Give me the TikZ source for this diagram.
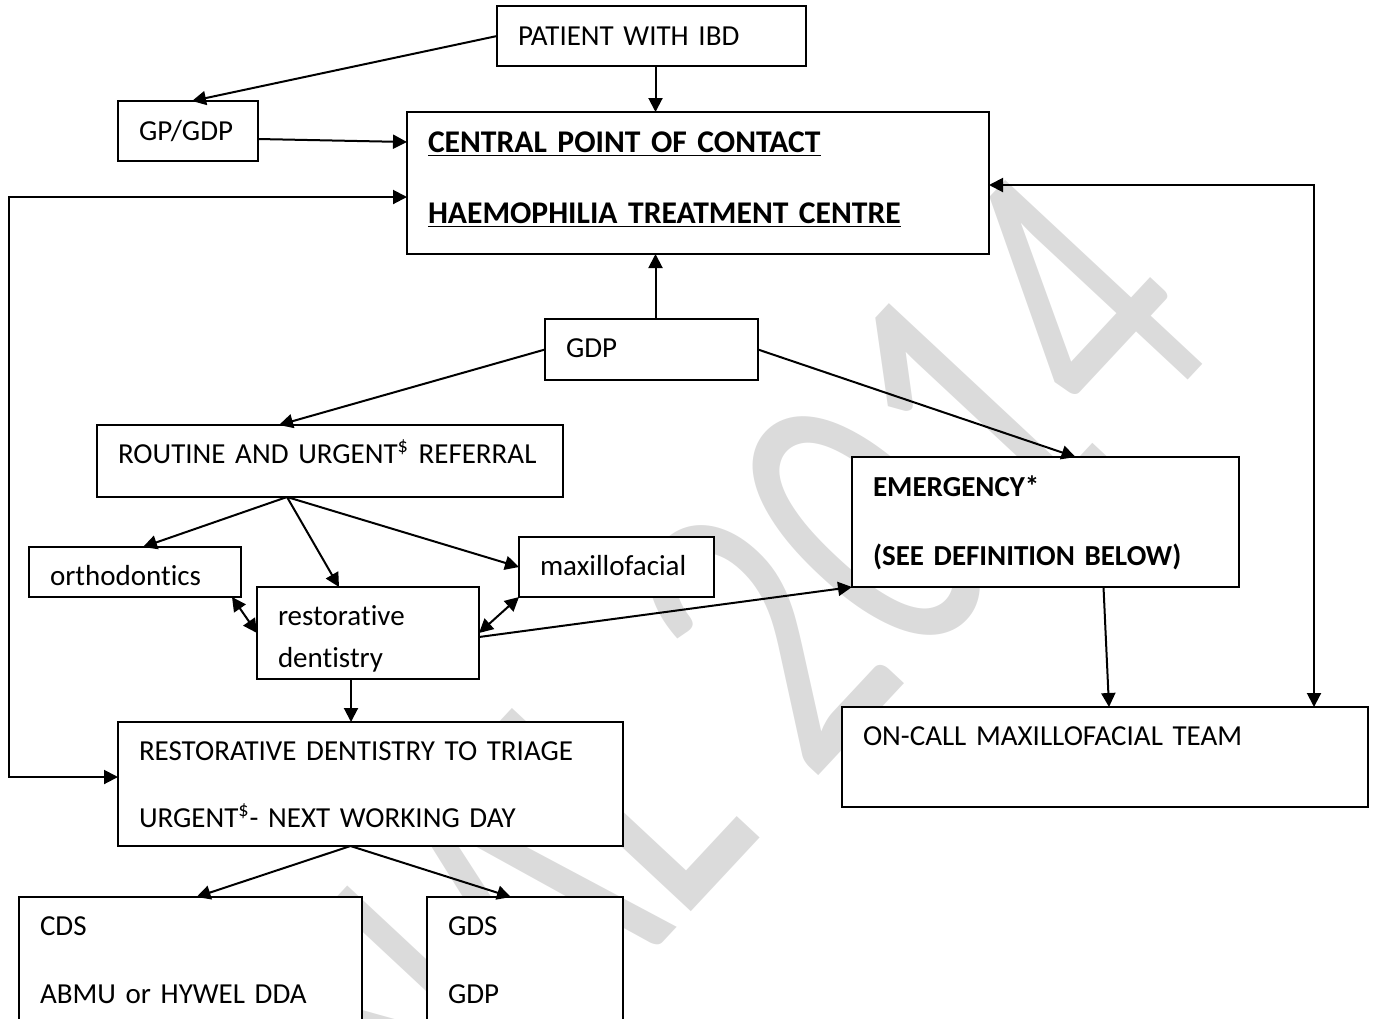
\documentclass[tikz,border=0pt]{standalone}
\usepackage{fontspec}
\setmainfont{Carlito}[Ligatures=CommonOff]
\usetikzlibrary{arrows.meta, calc, positioning}
\tikzstyle{block} = [rectangle, draw=black, fill=white, line width=0.8pt, inner xsep=10.5pt, inner ysep=0pt, outer sep=0pt, anchor=north west, align=left, font=\fontsize{14.5}{17}\selectfont]
\tikzstyle{arrow} = [line width=1pt, -{Triangle[length=7pt,width=7pt]}]
\tikzstyle{twoway} = [line width=1pt, {Triangle[length=7pt,width=7pt]}-{Triangle[length=7pt,width=7pt]}]
\tikzstyle{mark2014} = [text=black!14, font=\fontsize{150}{150}\selectfont, inner sep=0pt, rotate=47, yscale=1.4, anchor=base east]
\begin{document}
\begin{tikzpicture}[x=0.5pt, y=-0.5pt]
		\useasboundingbox (0,0) rectangle (1375,1018);
		\clip (0,0) rectangle (1375,1018);
		% watermark
		\node (Final) [mark2014] at (1225,340) {FINAL 2014};
		% boxes
		\node (Patient) [block, text width=133.5pt, text height=19.5pt, text depth=10.5pt] at (497,6) {PATIENT WITH IBD};
		\node (GP) [block, text width=49pt, text height=19.5pt, text depth=10.5pt] at (118,101) {GP/GDP};
		\node (Central) [block, text width=270pt, text height=20pt, text depth=51pt, font=\fontsize{15.8}{17}\selectfont\bfseries] at (407,112) {\underline{CENTRAL POINT OF CONTACT}\\[18.5pt]\underline{HAEMOPHILIA TREATMENT CENTRE}};
		\node (GDP) [block, text width=85.5pt, text height=19pt, text depth=11.5pt] at (545,319) {GDP};
		\node (Routine) [block, text width=212pt, text height=19pt, text depth=17pt] at (97,425) {ROUTINE AND URGENT\textsuperscript{\$} REFERRAL};
		\node (Ortho) [block, text width=85pt, text height=19pt, text depth=6pt] at (29,547) {orthodontics};
		\node (Maxfac) [block, text width=76.5pt, text height=19pt, text depth=11pt] at (519,537) {maxillofacial};
		\node (Restor) [block, text width=90pt, text height=19pt, text depth=27pt] at (257,587) {restorative\\[4pt]dentistry};
		\node (Emerg) [block, text width=172.5pt, text height=19.5pt, text depth=45.5pt, font=\fontsize{14.5}{17}\selectfont\bfseries] at (852,457) {EMERGENCY*\\[17.5pt](SEE DEFINITION BELOW)};
		\node (Oncall) [block, text width=242pt, text height=19pt, text depth=31pt] at (842,707) {ON-CALL MAXILLOFACIAL TEAM};
		\node (Triage) [block, text width=231.5pt, text height=19pt, text depth=43pt] at (118,722) {RESTORATIVE DENTISTRY TO TRIAGE\\[16.5pt]URGENT\textsuperscript{\$}- NEXT WORKING DAY};
		\node (CDS) [block, text width=150.5pt, text height=19pt, text depth=52.5pt] at (19,897) {CDS\\[17pt]ABMU or HYWEL DDA};
		\node (GDS) [block, text width=77pt, text height=19pt, text depth=52.5pt] at (427,897) {GDS\\[17pt]GDP};
		% connectors
		\draw [arrow] (Patient.west) -- ([xshift=2pt]GP.north);
		\draw [arrow] ([xshift=2pt]Patient.south) -- ([xshift=2pt]Patient.south |- Central.north);
		\draw [arrow] ([yshift=-4pt]GP.east) -- (Central.west |- 0,142);
		\draw [twoway] (Central.west |- 0,197) -- (9,197) -- (9,777) -- (Triage.west |- 0,777);
		\draw [twoway] (Central.east |- 0,185) -- (1314,185) -- (1314,0 |- Oncall.north);
		\draw [arrow] ([xshift=2pt]GDP.north) -- ([xshift=2pt]GDP.north |- Central.south);
		\draw [arrow] (GDP.west) -- ([xshift=91pt]Routine.north west);
		\draw [arrow] (GDP.east) -- ([xshift=15pt]Emerg.north);
		\coordinate (RoutineOut) at ([xshift=-21.5pt]Routine.south);
		\draw [arrow] (RoutineOut) -- ([xshift=4pt]Ortho.north);
		\draw [arrow] (RoutineOut) -- ([xshift=-14.5pt]Restor.north);
		\draw [arrow] (RoutineOut) -- (Maxfac.west);
		\draw [twoway] ([xshift=-4.5pt]Ortho.south east) -- (Restor.west);
		\draw [twoway] (Maxfac.south west) -- (Restor.east);
		\draw [arrow] ([yshift=-2pt]Restor.east) -- (Emerg.south west);
		\draw [arrow] ([xshift=-8.5pt]Restor.south) -- ([xshift=-8.5pt]Restor.south |- Triage.north);
		\draw [arrow] ([xshift=29pt]Emerg.south) -- ([xshift=2pt]Oncall.north);
		\coordinate (TriageOut) at ([xshift=-10pt]Triage.south);
		\draw [arrow] (TriageOut) -- ([xshift=3pt]CDS.north);
		\draw [arrow] (TriageOut) -- ([xshift=-7pt]GDS.north);
	\end{tikzpicture}
\end{document}
